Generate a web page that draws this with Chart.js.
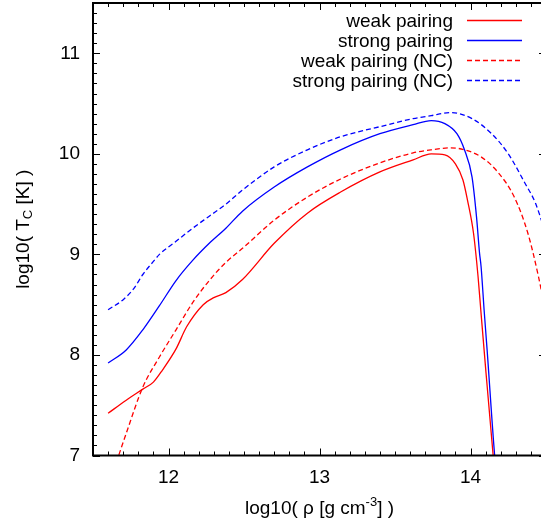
<!DOCTYPE html>
<html>
<head>
<meta charset="utf-8">
<script src="https://cdn.jsdelivr.net/npm/chart.js@4/dist/chart.umd.min.js"></script>
<style>
html,body{margin:0;padding:0;background:#fff;overflow:hidden;width:541px;height:528px;}
#wrap{width:560px;height:528px;}
</style>
</head>
<body>
<div id="wrap"><canvas id="c" width="560" height="528"></canvas></div>
<script>
// ---- data ----
const seriesLabels = ["weak pairing", "strong pairing", "weak pairing (NC)", "strong pairing (NC)"];

const weakX = [11.60, 11.72, 11.83, 11.90, 11.96, 12.05, 12.12, 12.23, 12.30, 12.38, 12.49, 12.70, 12.92, 13.14, 13.40, 13.62, 13.74, 13.83, 13.90, 13.95, 13.98, 14.02, 14.05, 14.068, 14.09, 14.15, 14.17];
const weakY = [7.42, 7.55, 7.66, 7.73, 7.85, 8.06, 8.28, 8.50, 8.57, 8.62, 8.75, 9.11, 9.41, 9.62, 9.82, 9.94, 10.00, 9.99, 9.90, 9.74, 9.54, 9.21, 8.78, 8.45, 8.05, 7.00, 6.70];

const strongX = [11.60, 11.72, 11.83, 11.94, 12.05, 12.16, 12.27, 12.38, 12.49, 12.70, 12.92, 13.14, 13.40, 13.62, 13.74, 13.83, 13.91, 13.96, 14.01, 14.04, 14.06, 14.07, 14.09, 14.11, 14.16, 14.18];
const strongY = [7.92, 8.05, 8.25, 8.49, 8.74, 8.94, 9.11, 9.26, 9.43, 9.67, 9.87, 10.04, 10.20, 10.29, 10.33, 10.30, 10.20, 10.04, 9.77, 9.37, 9.01, 8.88, 8.45, 8.05, 7.00, 6.70];

const weakNCX = [11.62, 11.67, 11.72, 11.83, 11.94, 12.05, 12.16, 12.27, 12.38, 12.49, 12.70, 12.92, 13.14, 13.40, 13.62, 13.74, 13.87, 13.96, 14.07, 14.18, 14.29, 14.38, 14.45, 14.52];
const weakNCY = [6.78, 7.00, 7.22, 7.68, 7.98, 8.25, 8.52, 8.74, 8.92, 9.06, 9.34, 9.57, 9.75, 9.91, 10.01, 10.04, 10.06, 10.04, 9.97, 9.82, 9.57, 9.21, 8.78, 8.25];

const strongNCX = [11.60, 11.70, 11.77, 11.83, 11.90, 11.94, 12.05, 12.16, 12.27, 12.38, 12.49, 12.70, 12.92, 13.14, 13.40, 13.62, 13.74, 13.87, 14.01, 14.14, 14.25, 14.36, 14.43, 14.52];
const strongNCY = [8.45, 8.55, 8.66, 8.80, 8.93, 9.00, 9.13, 9.26, 9.38, 9.50, 9.64, 9.87, 10.04, 10.17, 10.27, 10.35, 10.38, 10.41, 10.35, 10.20, 10.00, 9.71, 9.51, 9.10];

const xTicks = [12, 13, 14];
const yTicks = [7, 8, 9, 10, 11];
const xRange = [11.5, 14.5];
const yRange = [7, 11.5];

// ---- build ----
function pts(xs, ys){ return xs.map((x,i)=>({x:x, y:ys[i]})); }
const FONT = '"Liberation Sans", Arial, Helvetica, sans-serif';
const FS = 19;

const datasets = [
  {label: seriesLabels[0], data: pts(weakX, weakY), borderColor:'#ff0000', borderDash:[]},
  {label: seriesLabels[1], data: pts(strongX, strongY), borderColor:'#0000ff', borderDash:[]},
  {label: seriesLabels[2], data: pts(weakNCX, weakNCY), borderColor:'#ff0000', borderDash:[5,3]},
  {label: seriesLabels[3], data: pts(strongNCX, strongNCY), borderColor:'#0000ff', borderDash:[5,3]}
].map(d => Object.assign(d, {borderWidth:1.3, pointRadius:0, fill:false, cubicInterpolationMode:'monotone'}));

const framePlugin = {
  id: 'frame',
  afterDatasetsDraw(chart){
    const {ctx, chartArea:a, scales:{x, y}} = chart;
    ctx.save();
    ctx.strokeStyle = '#000';
    ctx.lineWidth = 1;
    ctx.beginPath();
    const n = Math.round((xRange[1]-xRange[0])*10);
    for (let i=0;i<=n;i++){
      const v = xRange[0] + i/10;
      const major = Math.abs(v - Math.round(v)) < 1e-6;
      const L = major ? 7 : 4;
      const px = Math.round(x.getPixelForValue(v)) + 0.5;
      ctx.moveTo(px, a.bottom); ctx.lineTo(px, a.bottom - L);
      ctx.moveTo(px, a.top); ctx.lineTo(px, a.top + L);
    }
    const m = Math.round((yRange[1]-yRange[0])*10);
    for (let i=0;i<=m;i++){
      const v = yRange[0] + i/10;
      const major = Math.abs(v - Math.round(v)) < 1e-6;
      const L = major ? 7 : 4;
      const py = Math.round(y.getPixelForValue(v)) + 0.5;
      ctx.moveTo(a.left, py); ctx.lineTo(a.left + L, py);
      ctx.moveTo(a.right, py); ctx.lineTo(a.right - L, py);
    }
    ctx.stroke();
    ctx.lineWidth = 2;
    ctx.strokeRect(a.left, a.top, a.right - a.left, a.bottom - a.top);

    // legend (gnuplot style: text then sample)
    ctx.font = FS + 'px ' + FONT;
    ctx.textAlign = 'right';
    ctx.textBaseline = 'middle';
    chart.data.datasets.forEach((d, i) => {
      const yy = 20 + 20*i;
      ctx.fillStyle = '#000';
      ctx.fillText(d.label, 453, yy + 2);
      ctx.strokeStyle = d.borderColor;
      ctx.lineWidth = d.borderWidth;
      ctx.setLineDash(d.borderDash);
      ctx.beginPath();
      ctx.moveTo(467, yy + 0.5); ctx.lineTo(522, yy + 0.5);
      ctx.stroke();
      ctx.setLineDash([]);
    });

    // axis titles with sub/superscripts
    ctx.fillStyle = '#000';
    ctx.textBaseline = 'alphabetic';
    ctx.textAlign = 'left';
    const big = FS + 'px ' + FONT, small = '13px ' + FONT;
    // x title
    const xParts = [['log10( \u03c1 [g cm', big, 0], ['-3', small, -8], ['] )', big, 0]];
    let w = 0;
    xParts.forEach(p => { ctx.font = p[1]; w += ctx.measureText(p[0]).width; });
    let cx = (a.left + a.right)/2 - w/2;
    const by = 514;
    xParts.forEach(p => { ctx.font = p[1]; ctx.fillText(p[0], cx, by + p[2]); cx += ctx.measureText(p[0]).width; });
    // y title
    ctx.translate(29, (a.top + a.bottom)/2);
    ctx.rotate(-Math.PI/2);
    const yParts = [['log10( T', big, 0], ['C', small, 3], [' [K] )', big, 0]];
    w = 0;
    yParts.forEach(p => { ctx.font = p[1]; w += ctx.measureText(p[0]).width; });
    cx = -w/2;
    yParts.forEach(p => { ctx.font = p[1]; ctx.fillText(p[0], cx, p[2]); cx += ctx.measureText(p[0]).width; });
    ctx.restore();
  }
};

new Chart(document.getElementById('c'), {
  type: 'line',
  data: {datasets},
  options: {
    responsive: false,
    animation: false,
    layout: {padding: {left: 0, right: 14, top: 3, bottom: 0}},
    plugins: {legend: {display:false}, tooltip: {enabled:false}},
    scales: {
      x: {
        type: 'linear', min: xRange[0], max: xRange[1],
        grid: {display:false, drawTicks:false},
        border: {display:false},
        afterBuildTicks: s => { s.ticks = xTicks.map(v => ({value:v})); },
        afterFit: s => { s.height = 72.5; s.paddingLeft = 0; s.paddingRight = 0; },
        ticks: {padding: 11, color:'#000', font:{family: FONT, size:FS}, maxRotation:0, autoSkip:false}
      },
      y: {
        type: 'linear', min: yRange[0], max: yRange[1],
        grid: {display:false, drawTicks:false},
        border: {display:false},
        afterBuildTicks: s => { s.ticks = yTicks.map(v => ({value:v})); },
        afterFit: s => { s.width = 93; s.paddingTop = 0; s.paddingBottom = 0; },
        ticks: {padding: 13, color:'#000', font:{family: FONT, size:FS}, autoSkip:false}
      }
    }
  },
  plugins: [framePlugin]
});
</script>
</body>
</html>
